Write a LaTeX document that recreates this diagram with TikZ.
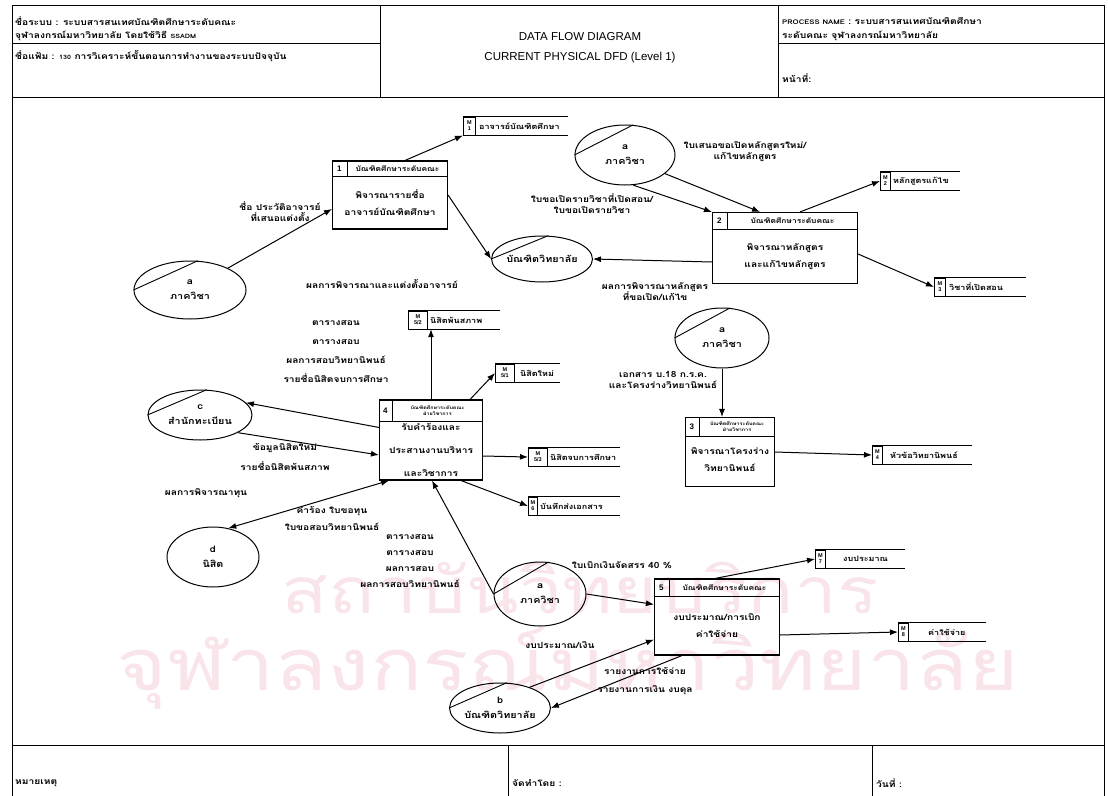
\documentclass[tikz,border=0pt]{standalone}
\usepackage{fontspec}
\setmainfont{Liberation Sans}
\newfontfamily\thai[Script=Thai,FakeStretch=1.2]{Loma}
\usetikzlibrary{shapes.geometric,arrows.meta}
\definecolor{wm}{RGB}{248,228,233}
\begin{document}
\begin{tikzpicture}[x=1pt,y=-1pt,
  every node/.style={inner sep=1pt},
  lbl/.style={font=\thai\bfseries\fontsize{8.5}{11}\selectfont, align=center},
  ext/.style={draw, ellipse, line width=1pt, inner sep=0pt, font=\thai\bfseries\fontsize{9}{15}\selectfont, align=center},
  proc/.style={draw, rectangle, line width=1.1pt, inner sep=0pt},
  sep/.style={line width=0.9pt},
  ptxt/.style={font=\thai\bfseries\fontsize{8.5}{17}\selectfont, align=center},
  ploc/.style={font=\thai\bfseries\fontsize{7}{8}\selectfont, align=center},
  ptiny/.style={font=\thai\bfseries\fontsize{4.5}{6}\selectfont, align=center},
  pid/.style={font=\bfseries\fontsize{8}{9}\selectfont},
  store/.style={rectangle, minimum height=18pt, inner sep=0pt, text width=#1, align=left, anchor=west, font=\thai\bfseries\fontsize{7.5}{9}\selectfont},
  sline/.style={line width=1pt},
  sid/.style={draw, line width=0.9pt, minimum height=18pt, minimum width=#1, inner sep=0pt, anchor=west, font=\bfseries\fontsize{5.5}{6}\selectfont, align=center},
  flow/.style={-{Latex[length=8pt,width=6pt]}, line width=1pt},
  bflow/.style={{Latex[length=8pt,width=6pt]}-{Latex[length=8pt,width=6pt]}, line width=1pt},
  frame/.style={line width=1pt},
  head/.style={font=\thai\bfseries\fontsize{8.5}{10}\selectfont, anchor=west},
  title/.style={font=\fontsize{11.5}{13}\selectfont},
  wmark/.style={text=wm, font=\thai\fontsize{#1}{#1}\selectfont}
]
\useasboundingbox (0,0) rectangle (1108,795);
% watermark
\node[wmark=64] (wm1) at (580,588) {สถาบันวิทยบริการ};
\node[wmark=72] (wm2) at (568,668) {จุฬาลงกรณ์มหาวิทยาลัย};

% frame
\draw[frame] (12,5) rectangle (1104,800);
\draw[frame] (12,97) -- (1104,97);
\draw[frame] (380,5) -- (380,97);
\draw[frame] (778,5) -- (778,97);
\draw[frame] (12,43) -- (380,43);
\draw[frame] (778,43) -- (1104,43);
\draw[frame] (12,745) -- (1104,745);
\draw[frame] (508,745) -- (508,800);
\draw[frame] (872,745) -- (872,800);

% header texts
\node[head] (h1) at (14,21) {ชื่อระบบ : ระบบสารสนเทศบัณฑิตศึกษาระดับคณะ};
\node[head] (h2) at (14,36) {จุฬาลงกรณ์มหาวิทยาลัย โดยใช้วิธี {\fontsize{6}{7}\selectfont SSADM}};
\node[head] (h3) at (14,56) {ชื่อแฟ้ม : {\fontsize{6}{7}\selectfont 130} การวิเคราะห์ขั้นตอนการทำงานของระบบปัจจุบัน};
\node[title] (t1) at (580,37) {DATA FLOW DIAGRAM};
\node[title] (t2) at (580,58) {CURRENT PHYSICAL DFD (Level 1)};
\node[head] (h4) at (781,21) {{\fontsize{6.5}{7}\selectfont PROCESS NAME} : ระบบสารสนเทศบัณฑิตศึกษา};
\node[head] (h5) at (781,36) {ระดับคณะ จุฬาลงกรณ์มหาวิทยาลัย};
\node[head] (h6) at (781,78) {หน้าที่:};
\node[head] (f1) at (14,783) {หมายเหตุ};
\node[head] (f2) at (511,783) {จัดทำโดย :};
\node[head] (f3) at (875,783) {วันที่ :};

% processes
\node[proc, minimum width=115pt, minimum height=68pt] (p1) at (390,195) {};
\node[proc, minimum width=145pt, minimum height=71pt] (p2) at (785,248) {};
\node[proc, minimum width=89pt, minimum height=69pt] (p3) at (730,452) {};
\node[proc, minimum width=103pt, minimum height=80pt] (p4) at (431,440) {};
\node[proc, minimum width=125pt, minimum height=76pt] (p5) at (717,617) {};
\foreach \p/\h/\w in {p1/16/15, p2/17/15, p3/19/14, p4/22/13, p5/18/15} {
  \draw[sep] ([yshift=-\h pt]\p.north west) -- ([yshift=-\h pt]\p.north east);
  \draw[sep] ([xshift=\w pt]\p.north west) -- ([xshift=\w pt, yshift=-\h pt]\p.north west);
}
\node[pid] (p1n) at ([xshift=7.5pt,yshift=-8pt]p1.north west) {1};
\node[pid] (p2n) at ([xshift=7.5pt,yshift=-8.5pt]p2.north west) {2};
\node[pid] (p3n) at ([xshift=7pt,yshift=-9.5pt]p3.north west) {3};
\node[pid] (p4n) at ([xshift=6.5pt,yshift=-11pt]p4.north west) {4};
\node[pid] (p5n) at ([xshift=7.5pt,yshift=-9pt]p5.north west) {5};
\node[ploc] (p1l) at ([xshift=7.5pt,yshift=-8pt]p1.north) {บัณฑิตศึกษาระดับคณะ};
\node[ploc] (p2l) at ([xshift=7.5pt,yshift=-8.5pt]p2.north) {บัณฑิตศึกษาระดับคณะ};
\node[ptiny] (p3l) at ([xshift=7pt,yshift=-9.5pt]p3.north) {บัณฑิตศึกษาระดับคณะ\\ฝ่ายวิชาการ};
\node[ptiny] (p4l) at ([xshift=6.5pt,yshift=-11pt]p4.north) {บัณฑิตศึกษาระดับคณะ\\ฝ่ายวิชาการ};
\node[ploc] (p5l) at ([xshift=7.5pt,yshift=-9pt]p5.north) {บัณฑิตศึกษาระดับคณะ};
\node[ptxt] (p1t) at ([yshift=-8pt]p1.center) {พิจารณารายชื่อ\\อาจารย์บัณฑิตศึกษา};
\node[ptxt] (p2t) at ([yshift=-9pt]p2.center) {พิจารณาหลักสูตร\\และแก้ไขหลักสูตร};
\node[ptxt] (p3t) at ([yshift=-8pt]p3.center) {พิจารณาโครงร่าง\\วิทยานิพนธ์};
\node[ptxt, font=\thai\bfseries\fontsize{8.5}{23}\selectfont] (p4t) at ([yshift=-10pt]p4.center) {รับคำร้องและ\\ประสานงานบริหาร\\และวิชาการ};
\node[ptxt] (p5t) at ([yshift=-9pt]p5.center) {งบประมาณ/การเบิก\\ค่าใช้จ่าย};

% external entities
\node[ext, minimum width=112pt, minimum height=58pt] (aL) at (190,290) {a\\ภาควิชา};
\node[ext, minimum width=90pt, minimum height=46pt] (bT) at (542,259) {บัณฑิตวิทยาลัย};
\node[ext, minimum width=100pt, minimum height=60pt] (aT) at (625,155) {a\\ภาควิชา};
\node[ext, minimum width=94pt, minimum height=60pt] (aM) at (722,338) {a\\ภาควิชา};
\node[ext, minimum width=104pt, minimum height=50pt] (c) at (200,415) {c\\สำนักทะเบียน};
\node[ext, minimum width=92pt, minimum height=60pt] (d) at (213,557) {d\\นิสิต};
\node[ext, minimum width=92pt, minimum height=64pt] (aB) at (540,594) {a\\ภาควิชา};
\node[ext, minimum width=100pt, minimum height=50pt] (b) at (500,708) {b\\บัณฑิตวิทยาลัย};
\foreach \e in {aL,bT,aT,aM,c,aB,b} \draw[line width=0.9pt] (\e.west) -- (\e.75);

% data stores
\node[store=105pt] (m1) at (463,126) {\hspace*{16pt}อาจารย์บัณฑิตศึกษา};
\node[store=80pt] (m2) at (880,181) {\hspace*{13pt}หลักสูตรแก้ไข};
\node[store=92pt] (m3) at (934,287) {\hspace*{15pt}วิชาที่เปิดสอน};
\node[store=100pt] (m4) at (872,455) {\hspace*{18pt}หัวข้อวิทยานิพนธ์};
\node[store=92pt] (m52) at (408,320) {\hspace*{22pt}นิสิตพ้นสภาพ};
\node[store=65pt] (m51) at (495,373) {\hspace*{25pt}นิสิตใหม่};
\node[store=92pt] (m53) at (528,457) {\hspace*{22pt}นิสิตจบการศึกษา};
\node[store=92pt] (m6) at (528,506) {\hspace*{12pt}บันทึกส่งเอกสาร};
\node[store=90pt] (m7) at (815,559) {\hspace*{28pt}งบประมาณ};
\node[store=88pt] (m8) at (898,632) {\hspace*{30pt}ค่าใช้จ่าย};
\foreach \s in {m1,m2,m3,m4,m52,m51,m53,m6,m7,m8}
  \draw[sline] (\s.north east) -- (\s.north west) -- (\s.south west) -- (\s.south east);
\node[sid=12pt] (m1i) at (m1.west) {M\\1};
\node[sid=10pt] (m2i) at (m2.west) {M\\2};
\node[sid=11pt] (m3i) at (m3.west) {M\\3};
\node[sid=10pt] (m4i) at (m4.west) {M\\4};
\node[sid=19pt] (m52i) at (m52.west) {M\\5/2};
\node[sid=19pt] (m51i) at (m51.west) {M\\5/1};
\node[sid=19pt] (m53i) at (m53.west) {M\\5/3};
\node[sid=9pt] (m6i) at (m6.west) {M\\6};
\node[sid=10pt] (m7i) at (m7.west) {M\\7};
\node[sid=10pt] (m8i) at (m8.west) {M\\8};

% flows
\draw[flow] (aL.30) -- ([yshift=-14pt]p1.west);
\draw[flow] ([xshift=15pt]p1.north) -- (m1i.south west);
\draw[flow] (p1.east) -- (bT.west);
\draw[flow] ([yshift=-14pt]p2.west) -- (bT.east);
\draw[flow] (aT.285) -- (p2.north west);
\draw[flow] (aT.-25) -- ([xshift=-25pt]p2.north);
\draw[flow] ([xshift=15pt]p2.north) -- (m2i.west);
\draw[flow] ([yshift=-6pt]p2.east) -- (m3i.west);
\draw[flow] (aM.south) -- (aM.south |- p3.north);
\draw[flow] (p3.east) -- (m4i.west);
\draw[flow] (p4.north) -- (p4.north |- m52.south);
\draw[flow] ([xshift=-13pt]p4.north east) -- (m51i.west);
\draw[flow] ([yshift=-16pt]p4.east) -- (m53i.west);
\draw[flow] ([xshift=-22pt]p4.south east) -- (m6i.west);
\draw[flow] ([yshift=-28pt]p4.north west) -- (c.15);
\draw[flow] (c.-25) -- ([yshift=-15pt]p4.west);
\draw[bflow] (d.62) -- ([xshift=-42pt]p4.south);
\draw[flow] (aB.west) -- ([xshift=1pt]p4.south);
\draw[flow] (aB.east) -- ([yshift=-26pt]p5.north west);
\draw[flow] ([xshift=-2pt]p5.north) -- (m7i.west);
\draw[flow] ([yshift=-18pt]p5.east) -- (m8i.west);
\draw[flow] (b.35) -- ([yshift=16pt]p5.south west);
\draw[flow] ([xshift=28pt]p5.south west) -- (b.east);

% flow labels
\node[lbl] (l1) at (280,212) {ชื่อ ประวัติอาจารย์\\ที่เสนอแต่งตั้ง};
\node[lbl] (l2) at (382,284) {ผลการพิจารณาและแต่งตั้งอาจารย์};
\node[lbl] (l3) at (592,204) {ใบขอเปิดรายวิชาที่เปิดสอน/\\ใบขอเปิดรายวิชา};
\node[lbl] (l4) at (745,152) {ใบเสนอขอเปิดหลักสูตรใหม่/\\แก้ไขหลักสูตร};
\node[lbl] (l5) at (655,292) {ผลการพิจารณาหลักสูตร\\ที่ขอเปิด/แก้ไข};
\node[lbl] (l6) at (663,380) {เอกสาร บ.18 ก.ร.ค.\\และโครงร่างวิทยานิพนธ์};
\node[lbl, font=\thai\bfseries\fontsize{8.5}{19}\selectfont] (l7) at (336,352) {ตารางสอน\\ตารางสอบ\\ผลการสอบวิทยานิพนธ์\\รายชื่อนิสิตจบการศึกษา};
\node[lbl, font=\thai\bfseries\fontsize{8.5}{20}\selectfont] (l8) at (285,457) {ข้อมูลนิสิตใหม่\\รายชื่อนิสิตพ้นสภาพ};
\node[lbl] (l9) at (206,493) {ผลการพิจารณาทุน};
\node[lbl, font=\thai\bfseries\fontsize{8.5}{17}\selectfont] (l10) at (332,518) {คำร้อง ใบขอทุน\\ใบขอสอบวิทยานิพนธ์};
\node[lbl, font=\thai\bfseries\fontsize{8.5}{16}\selectfont] (l11) at (410,561) {ตารางสอน\\ตารางสอบ\\ผลการสอบ\\ผลการสอบวิทยานิพนธ์};
\node[lbl] (l12) at (622,565) {ใบเบิกเงินจัดสรร 40 \%};
\node[lbl] (l13) at (560,645) {งบประมาณ/เงิน};
\node[lbl, font=\thai\bfseries\fontsize{8.5}{18}\selectfont] (l14) at (645,681) {รายงานการใช้จ่าย\\รายงานการเงิน งบดุล};
\end{tikzpicture}
\end{document}
